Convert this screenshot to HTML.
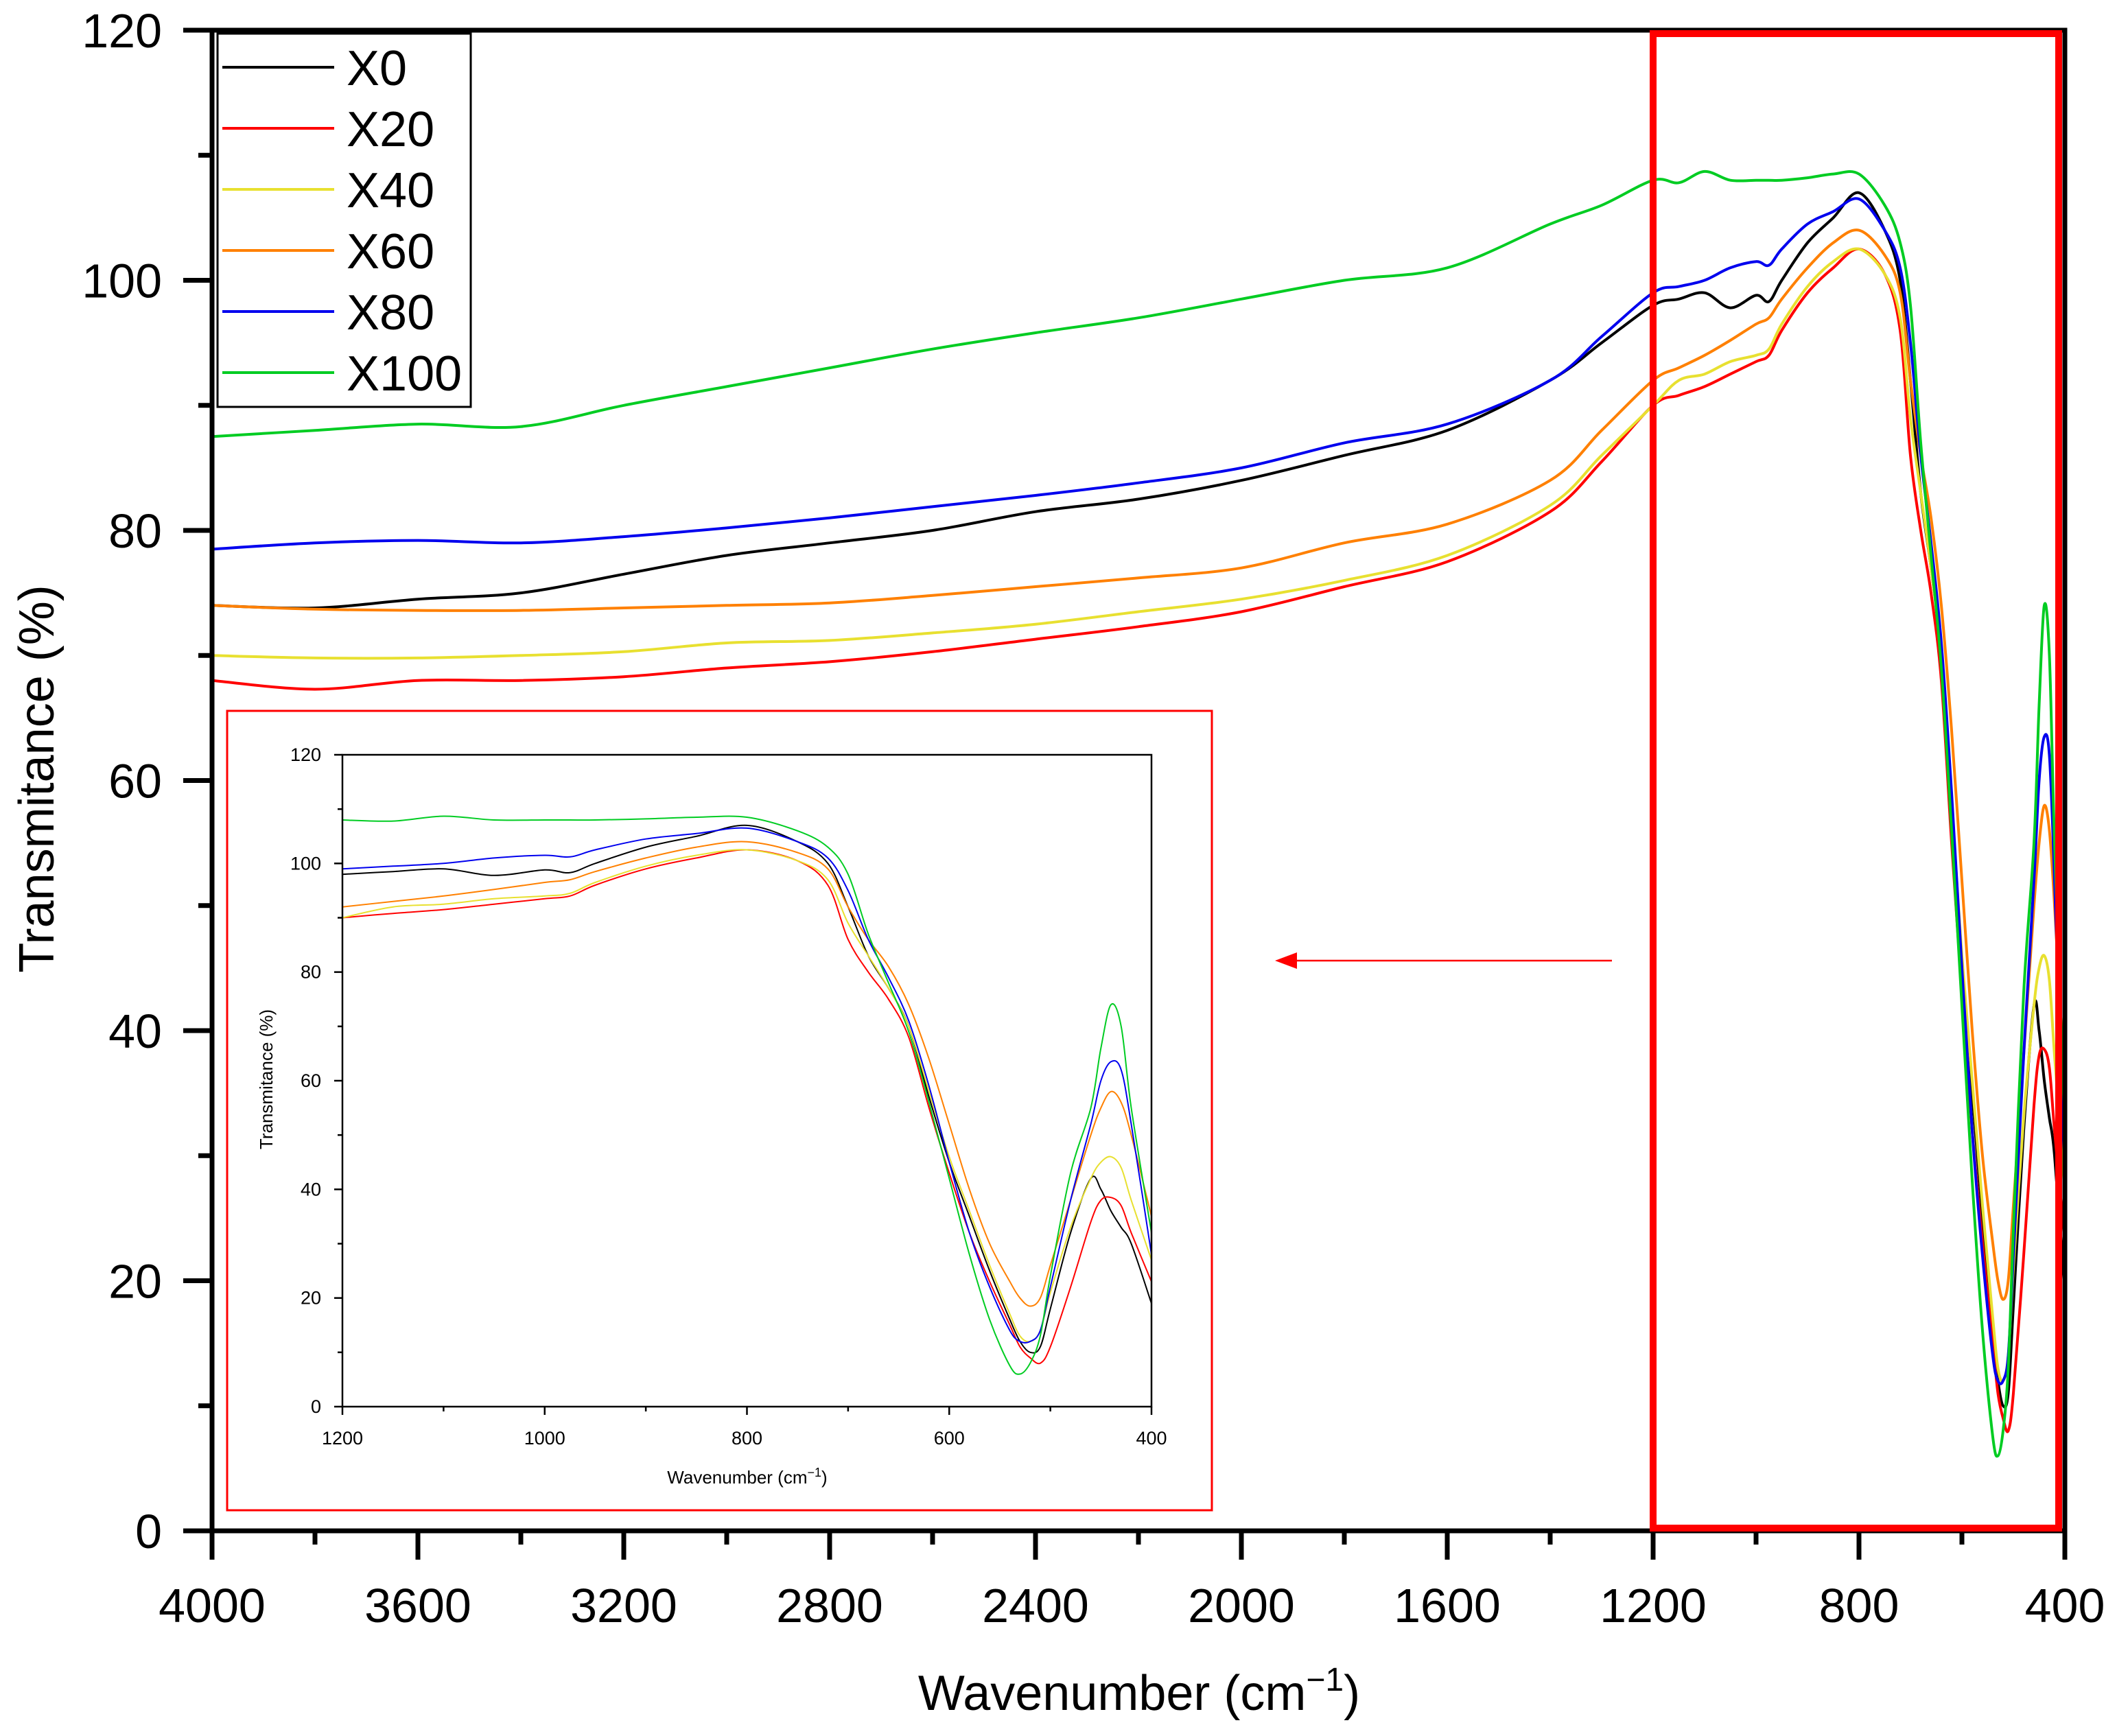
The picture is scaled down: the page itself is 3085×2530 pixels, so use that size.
<!DOCTYPE html>
<html><head><meta charset="utf-8"><style>
html,body{margin:0;padding:0;background:#fff;}
svg{display:block;font-family:"Liberation Sans",Arial,sans-serif;}
</style></head><body>
<svg id="chart" width="3085" height="2530" viewBox="0 0 3085 2530" xmlns="http://www.w3.org/2000/svg">
<defs>
<clipPath id="mainclip"><rect x="309" y="44" width="2700" height="2187"/></clipPath>
<clipPath id="insetclip"><rect x="499" y="1100" width="1179" height="950"/></clipPath>
</defs>
<g id="main"></g>
<g id="inset"></g>
</svg>
<script>
const wavenumbers = [4000,3800,3600,3400,3200,3000,2800,2600,2400,2200,2000,1800,1600,1400,1300,1200,1150,1100,1050,1000,975,950,900,850,800,750,720,700,680,660,640,620,600,580,560,540,530,520,510,500,480,460,450,440,430,420,400];
const seriesNames = ["X0","X20","X40","X60","X80","X100"];
const x0Values   = [74,73.8,74.5,75,76.5,78,79,80,81.5,82.5,84,86,88,92,95,98,98.5,99,97.8,98.8,98.3,100,103,105,107,104,100,92,83,77,70,57,45,35,25,16,12,10,11,18,32,42,40,36,33,30,19];
const x20Values  = [68,67.3,68,68,68.3,69,69.5,70.3,71.3,72.3,73.5,75.5,77.5,81.5,85.5,90,90.8,91.5,92.5,93.5,94,96,99,101,102.5,100.5,96,86,80,75,68,55,43,32,23,15,11,9,8,11,22,34,38,38.5,37,32,23];
const x40Values  = [70,69.8,69.8,70,70.3,71,71.2,71.8,72.5,73.5,74.5,76,78,82,86,90,92,92.5,93.5,94,94.5,96.5,99.5,101.5,102.5,100.5,97,89,83,77,70,58,46,36,26,17,13,12,14,21,33,42,45,46,44,38,27];
const x60Values  = [74,73.7,73.6,73.6,73.8,74,74.2,74.8,75.5,76.2,77,79,80.5,84,88,92,93,94,95.2,96.5,97,98.5,101,103,104,102,99,92,86,81,74,64,52,40,30,23,20,18.5,20,26,38,50,55,58,56,50,35];
const x80Values  = [78.5,79,79.2,79,79.5,80.2,81,81.9,82.8,83.8,85,87,88.5,92,95.5,99,99.5,100,101,101.5,101.2,102.5,104.5,105.5,106.5,104,101,95,86,79,71,59,45,32,22,14,12,12,14,22,38,52,60,63.5,62,52,28];
const x100Values = [87.5,88,88.5,88.3,90,91.5,93,94.5,95.8,97,98.5,100,101,104.5,106,108,107.8,108.7,108,108,108,108,108.2,108.5,108.5,106,103,98,87,78,69,56,42,28,16,7.5,6,8,13,24,43,55,66,74,70,55,32];
const seriesValues = [x0Values,x20Values,x40Values,x60Values,x80Values,x100Values];
const seriesColors = ["#000000","#ff0000","#e8e030","#ff8000","#0000ee","#00cc22"];
const mainXTicks = [4000,3600,3200,2800,2400,2000,1600,1200,800,400];
const mainYTicks = [0,20,40,60,80,100,120];
const insetXTicks = [1200,1000,800,600,400];
const insetYTicks = [0,20,40,60,80,100,120];

const NS="http://www.w3.org/2000/svg";
function mk(tag,attrs,parent){const e=document.createElementNS(NS,tag);for(const k in attrs)e.setAttribute(k,attrs[k]);parent.appendChild(e);return e;}
function axes(xmin,xmax,ymin,ymax,L,R,T,B){
  return {x:w=>L+(xmax-w)/(xmax-xmin)*(R-L), y:v=>B-(v-ymin)/(ymax-ymin)*(B-T)};
}
function splinePath(pts){
  let d="M"+pts[0][0].toFixed(1)+","+pts[0][1].toFixed(1);
  for(let i=0;i<pts.length-1;i++){
    const p0=pts[Math.max(0,i-1)],p1=pts[i],p2=pts[i+1],p3=pts[Math.min(pts.length-1,i+2)];
    const c1x=p1[0]+(p2[0]-p0[0])/6,c1y=p1[1]+(p2[1]-p0[1])/6;
    const c2x=p2[0]-(p3[0]-p1[0])/6,c2y=p2[1]-(p3[1]-p1[1])/6;
    d+=" C"+c1x.toFixed(1)+","+c1y.toFixed(1)+" "+c2x.toFixed(1)+","+c2y.toFixed(1)+" "+p2[0].toFixed(1)+","+p2[1].toFixed(1);
  }
  return d;
}

// ===== MAIN PLOT =====
const g=document.getElementById("main");
const M=axes(400,4000,0,120,309,3009,44,2231);
const lines=mk("g",{"clip-path":"url(#mainclip)"},g);


seriesValues.forEach((vals,si)=>{
  const pts=wavenumbers.map((w,i)=>[M.x(w),M.y(vals[i])]);
  const p=mk("path",{d:splinePath(pts),fill:"none",stroke:seriesColors[si],"stroke-width":4,"stroke-linejoin":"round"},lines);
  
  
});
// frame
const frame=mk("rect",{x:309,y:44,width:2700,height:2187,fill:"none",stroke:"#000","stroke-width":7},g);


// x ticks
for(let w=4000;w>=400;w-=200){
  const major=(w%400===0);
  const t=mk("line",{x1:M.x(w),x2:M.x(w),y1:2231,y2:2231+(major?42:20),stroke:"#000","stroke-width":7},g);
  
  
}
mainXTicks.forEach(w=>{
  const t=mk("text",{x:M.x(w),y:2364,"font-size":70,"text-anchor":"middle",fill:"#000"},g);
  t.textContent=w;
  
  
});
for(let v=0;v<=120;v+=10){
  const major=(v%20===0);
  const t=mk("line",{x1:309-(major?42:20),x2:309,y1:M.y(v),y2:M.y(v),stroke:"#000","stroke-width":7},g);
  
  
}
mainYTicks.forEach(v=>{
  const t=mk("text",{x:236,y:M.y(v)+25,"font-size":70,"text-anchor":"end",fill:"#000"},g);
  t.textContent=v;
  
  
});
const xt=mk("text",{x:1660,y:2492,"font-size":72,"text-anchor":"middle",fill:"#000"},g);
xt.innerHTML='Wavenumber (cm<tspan dy="-28" font-size="48">−1</tspan><tspan dy="28">)</tspan>';


const yt=mk("text",{x:0,y:0,"font-size":72,"text-anchor":"middle",fill:"#000",transform:"translate(78,1135) rotate(-90)"},g);
yt.textContent="Transmitance (%)";


// legend
const lg=mk("g",{},g);


const lb=mk("rect",{x:317,y:49,width:369,height:544,fill:"#fff",stroke:"#000","stroke-width":3},lg);


seriesNames.forEach((n,i)=>{
  const yy=98+i*89;
  const l=mk("line",{x1:324,x2:487,y1:yy,y2:yy,stroke:seriesColors[i],"stroke-width":4},lg);
  
  
  const t=mk("text",{x:505,y:yy+26,"font-size":72,fill:"#000"},lg);
  t.textContent=n;
  
  
});
// red highlight box
const hb=mk("rect",{x:2409,y:49,width:591,height:2178,fill:"none",stroke:"#ff0000","stroke-width":10},g);


// arrow
const ar=mk("line",{x1:2349,y1:1400,x2:1880,y2:1400,stroke:"#ff0000","stroke-width":2.5},g);


const ah=mk("polygon",{points:"1858,1400 1890,1388 1890,1412",fill:"#ff0000"},g);



// ===== INSET =====
const ig=document.getElementById("inset");
const ib=mk("rect",{x:331,y:1036,width:1435,height:1165,fill:"#fff",stroke:"#ff0000","stroke-width":3},ig);


const I=axes(400,1200,0,120,499,1678,1100,2050);
const il=mk("g",{"clip-path":"url(#insetclip)"},ig);


seriesValues.forEach((vals,si)=>{
  const pts=[];
  wavenumbers.forEach((w,i)=>{ if(w<=1250) pts.push([I.x(w),I.y(vals[i])]); });
  const p=mk("path",{d:splinePath(pts),fill:"none",stroke:seriesColors[si],"stroke-width":2,"stroke-linejoin":"round"},il);
  
  
});
const ifr=mk("rect",{x:499,y:1100,width:1179,height:950,fill:"none",stroke:"#000","stroke-width":2.5},ig);


for(let w=1200;w>=400;w-=100){
  const major=(w%200===0);
  const t=mk("line",{x1:I.x(w),x2:I.x(w),y1:2050,y2:2050+(major?12:7),stroke:"#000","stroke-width":2.5},ig);
  
  
}
insetXTicks.forEach(w=>{
  const t=mk("text",{x:I.x(w),y:2105,"font-size":27,"text-anchor":"middle",fill:"#000"},ig);
  t.textContent=w;
  
  
});
for(let v=0;v<=120;v+=10){
  const major=(v%20===0);
  const t=mk("line",{x1:499-(major?12:7),x2:499,y1:I.y(v),y2:I.y(v),stroke:"#000","stroke-width":2.5},ig);
  
  
}
insetYTicks.forEach(v=>{
  const t=mk("text",{x:468,y:I.y(v)+9,"font-size":27,"text-anchor":"end",fill:"#000"},ig);
  t.textContent=v;
  
  
});
const ixt=mk("text",{x:1089,y:2162,"font-size":26,"text-anchor":"middle",fill:"#000"},ig);
ixt.innerHTML='Wavenumber (cm<tspan dy="-10" font-size="18">−1</tspan><tspan dy="10">)</tspan>';


const iyt=mk("text",{x:0,y:0,"font-size":26,"text-anchor":"middle",fill:"#000",transform:"translate(397,1573) rotate(-90)"},ig);
iyt.textContent="Transmitance (%)";


</script>
</body></html>
